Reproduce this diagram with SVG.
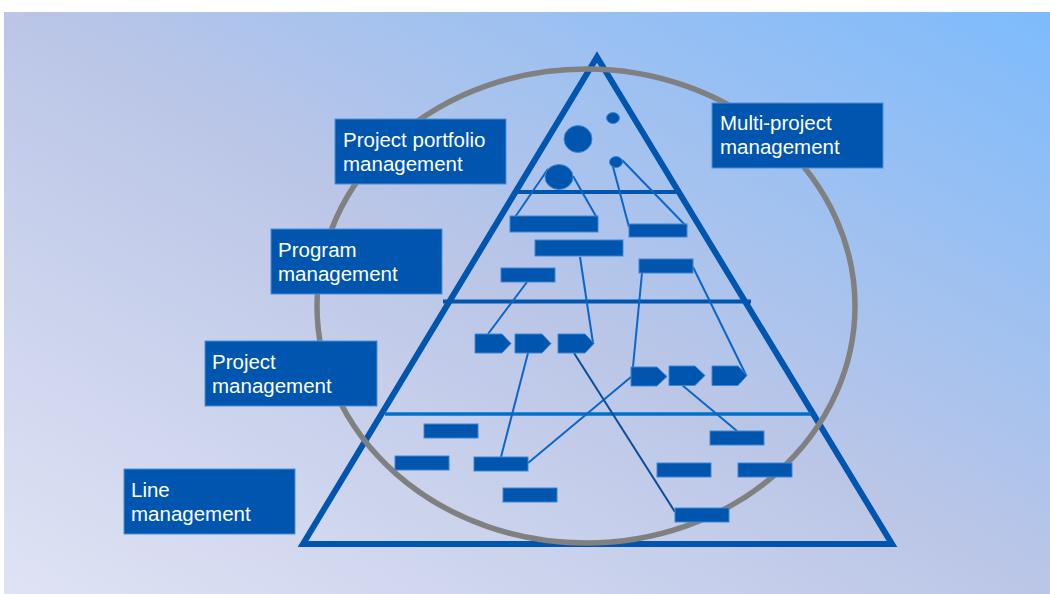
<svg xmlns="http://www.w3.org/2000/svg" width="1050" height="594" viewBox="0 0 1050 594">
  <defs>
    <linearGradient id="bg" x1="0" y1="1" x2="1" y2="0">
      <stop offset="0" stop-color="#DFE3F4"/>
      <stop offset="0.5" stop-color="#BBC6E7"/>
      <stop offset="1" stop-color="#7DBBFC"/>
    </linearGradient>
    <style>
      .lbl rect { fill: #0055AE; stroke: #4F8FD6; stroke-width: 1; }
      .lbl text { fill: #FFFFFF; font-family: "Liberation Sans", Arial, sans-serif; font-size: 20.5px; }
      .bar { fill: #0055AE; stroke: #3F86D2; stroke-width: 1; }
      .conn line { stroke: #0A66C8; stroke-width: 2; }
      .conn line.dark { stroke: #0A4E9A; }
    </style>
  </defs>
  <rect x="0" y="0" width="1050" height="594" fill="#FFFFFF"/>
  <rect x="4" y="12" width="1046" height="582" fill="url(#bg)"/>

  <g id="pyramid">
    <polygon points="597,57 303,544 892,544" fill="none" stroke="#0055AE" stroke-width="6" stroke-linejoin="miter"/>
    <line x1="516" y1="192" x2="679" y2="192" stroke="#0055AE" stroke-width="4"/>
    <line x1="443" y1="301.5" x2="751" y2="301.5" stroke="#0055AE" stroke-width="4"/>
    <line x1="385" y1="414" x2="811" y2="414" stroke="#0070C8" stroke-width="3.5"/>
  </g>

  <g id="scope-ellipse">
    <ellipse cx="586" cy="306" rx="269" ry="237" fill="none" stroke="#808080" stroke-width="5.5"/>
  </g>

  <g id="connectors" class="conn">
    <line x1="548" y1="169" x2="511" y2="223"/>
    <line x1="573" y1="176" x2="597" y2="218"/>
    <line x1="612" y1="163" x2="629" y2="227"/>
    <line x1="622" y1="160" x2="687" y2="227"/>
    <line x1="527" y1="282" x2="488" y2="334"/>
    <line x1="580" y1="257" x2="593" y2="343"/>
    <line x1="642" y1="273" x2="632" y2="377"/>
    <line x1="693" y1="267" x2="746" y2="375"/>
    <line x1="528" y1="353" x2="501" y2="457"/>
    <line x1="631" y1="377" x2="528" y2="463"/>
    <line class="dark" x1="574" y1="353" x2="675" y2="512"/>
    <line x1="682" y1="385" x2="737" y2="431"/>
  </g>

  <g id="portfolio-items">
    <ellipse class="bar" cx="578" cy="139" rx="14" ry="13.5"/>
    <ellipse class="bar" cx="613" cy="118" rx="6.5" ry="5.5"/>
    <ellipse class="bar" cx="559" cy="177" rx="14" ry="12.5"/>
    <ellipse class="bar" cx="616" cy="162" rx="6.5" ry="5.5"/>
  </g>

  <g id="program-items">
    <rect class="bar" x="510" y="216" width="88" height="16"/>
    <rect class="bar" x="629" y="224" width="58" height="13"/>
    <rect class="bar" x="535" y="240" width="88" height="16"/>
    <rect class="bar" x="501" y="268" width="54" height="14"/>
    <rect class="bar" x="639" y="259" width="54" height="14"/>
  </g>

  <g id="project-items">
    <polygon class="bar" points="475,334 502,334 511,343.5 502,353 475,353"/>
    <polygon class="bar" points="515,334 542,334 551,343.5 542,353 515,353"/>
    <polygon class="bar" points="558,334 585,334 594,343.5 585,353 558,353"/>
    <polygon class="bar" points="631,367 657,367 667,376.5 657,386 631,386"/>
    <polygon class="bar" points="669,366 695,366 705,375.5 695,385.5 669,385.5"/>
    <polygon class="bar" points="712,366 738,366 747,375.5 738,385.5 712,385.5"/>
  </g>

  <g id="line-items">
    <rect class="bar" x="424" y="424" width="54" height="14"/>
    <rect class="bar" x="395" y="456" width="54" height="14"/>
    <rect class="bar" x="474" y="457" width="54" height="14"/>
    <rect class="bar" x="503" y="488" width="54" height="14"/>
    <rect class="bar" x="710" y="431" width="54" height="14"/>
    <rect class="bar" x="657" y="463" width="54" height="14"/>
    <rect class="bar" x="738" y="463" width="54" height="14"/>
    <rect class="bar" x="675" y="508" width="54" height="14"/>
  </g>

  <g id="label-portfolio" class="lbl">
    <rect x="335" y="119" width="171" height="65"/>
    <text x="343" y="147">Project portfolio</text>
    <text x="343" y="171">management</text>
  </g>
  <g id="label-program" class="lbl">
    <rect x="271" y="229" width="171" height="65"/>
    <text x="278" y="257">Program</text>
    <text x="278" y="281">management</text>
  </g>
  <g id="label-project" class="lbl">
    <rect x="205" y="341" width="172" height="65"/>
    <text x="212" y="369">Project</text>
    <text x="212" y="393">management</text>
  </g>
  <g id="label-line" class="lbl">
    <rect x="124" y="469" width="171" height="65"/>
    <text x="131" y="497">Line</text>
    <text x="131" y="521">management</text>
  </g>
  <g id="label-multi" class="lbl">
    <rect x="712" y="103" width="171" height="65"/>
    <text x="720" y="130">Multi-project</text>
    <text x="720" y="154">management</text>
  </g>
</svg>
